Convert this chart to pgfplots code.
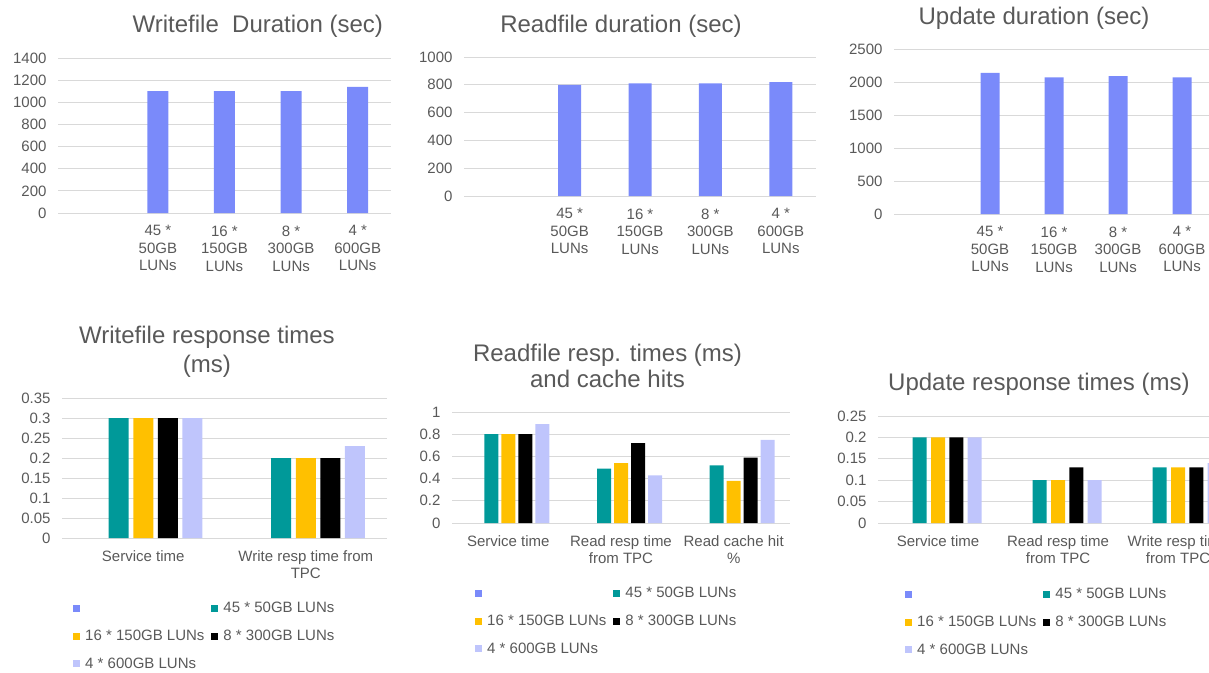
\documentclass[border=0pt]{standalone}
\usepackage{pgfplots}
\pgfplotsset{compat=1.18}
\usepackage{fontspec}
\setmainfont{Liberation Sans}
\definecolor{txt}{HTML}{595959}
\definecolor{gridc}{HTML}{D9D9D9}
\definecolor{cblue}{HTML}{7A8AFA}
\definecolor{cteal}{HTML}{009999}
\definecolor{cyel}{HTML}{FFC000}
\definecolor{cblk}{HTML}{000000}
\definecolor{clav}{HTML}{BFC5FC}
\pgfplotsset{
  sq/.style={legend image code/.code={\fill[##1] (0pt,-3.5pt) rectangle (7pt,3.5pt);}},
  base/.style={
    scale only axis, anchor=south west,
    axis line style={draw=none}, tick style={draw=none},
    major tick length=0pt,
    ymajorgrids, grid style={gridc, line width=0.9pt},
    ymin=0, enlargelimits=false, ybar, scaled ticks=false,
    tick label style={font=\fontsize{15}{17.5}\selectfont, text=txt},
    xticklabel style={align=center, anchor=north, yshift=-9pt},
    yticklabel style={anchor=east, xshift=-8pt},
    title style={font=\fontsize{24}{29}\selectfont, text=txt, align=center, anchor=center},
    legend columns=2, legend cell align=left,
    legend style={draw=none, fill=none, anchor=north west, inner sep=0pt,
      font=\fontsize{15}{17.5}\selectfont, text=txt, row sep=11.5pt,
      /tikz/every odd column/.append style={column sep=3pt},
      /tikz/every even column/.append style={column sep=5pt}},
    clip=false,
  },
  dur/.style={base, xmin=-0.5, xmax=4.5, xtick={0,...,4},
    xticklabels={{},{45 *\\50GB\\LUNs},{16 *\\150GB\\LUNs},{8 *\\300GB\\LUNs},{4 *\\600GB\\LUNs}}},
}
\begin{document}
\begin{tikzpicture}
\useasboundingbox (0pt,0pt) rectangle (1209pt,-672pt);
\clip (0pt,0pt) rectangle (1209pt,-672pt);

% Panel 1
\begin{axis}[dur, at={(58pt,-213pt)}, width=333pt, height=155pt,
  ymax=1400, ytick={0,200,...,1400}, yticklabels={0,200,400,600,800,1000,1200,1400},
  bar width=21pt, title={Writefile\ \ Duration (sec)}, title style={at={(0.60,1.167)}}]
\addplot[fill=cblue, draw=none, bar shift=0pt] coordinates {(1,1100) (2,1100) (3,1100) (4,1140)};
\end{axis}

% Panel 2
\begin{axis}[dur, at={(464pt,-196pt)}, width=352pt, height=139pt,
  ymax=1000, ytick={0,200,...,1000}, yticklabels={0,200,400,600,800,1000},
  bar width=23pt, title={Readfile duration (sec)}, title style={at={(0.446,1.179)}}]
\addplot[fill=cblue, draw=none, bar shift=0pt] coordinates {(1,800) (2,810) (3,810) (4,820)};
\end{axis}

% Panel 3
\begin{axis}[dur, at={(894pt,-214pt)}, width=320pt, height=165pt,
  ymax=2500, ytick={0,500,...,2500}, yticklabels={0,500,1000,1500,2000,2500},
  bar width=19pt, title={Update duration (sec)}, title style={at={(0.4375,1.152)}}]
\addplot[fill=cblue, draw=none, bar shift=0pt] coordinates {(1,2140) (2,2070) (3,2090) (4,2070)};
\end{axis}

% Panel 4
\begin{axis}[base, at={(62pt,-538pt)}, width=325pt, height=140pt,
  xmin=-0.5, xmax=1.5, xtick={0,1}, xticklabels={{Service time},{Write resp time from\\TPC}},
  ymax=0.35, ytick={0,0.05,...,0.35}, yticklabels={0,0.05,0.1,0.15,0.2,0.25,0.3,0.35},
  bar width=20pt, title={Writefile response times\\(ms)}, title style={at={(0.446,1.286)}},
  legend style={at={(0.034,-0.436)}}]
\addlegendimage{sq, fill=cblue, draw=none}
\addlegendentry{\strut}
\addplot[sq, fill=cteal, draw=none, bar shift=-24.6pt] coordinates {(0,0.3) (1,0.2)};
\addlegendentry{45 * 50GB LUNs}
\addplot[sq, fill=cyel, draw=none, bar shift=0pt] coordinates {(0,0.3) (1,0.2)};
\addlegendentry{16 * 150GB LUNs}
\addplot[sq, fill=cblk, draw=none, bar shift=24.6pt] coordinates {(0,0.3) (1,0.2)};
\addlegendentry{8 * 300GB LUNs}
\addplot[sq, fill=clav, draw=none, bar shift=49.2pt] coordinates {(0,0.3) (1,0.23)};
\addlegendentry{4 * 600GB LUNs}
\end{axis}

% Panel 5
\begin{axis}[base, at={(452pt,-523pt)}, width=338pt, height=111pt,
  xmin=-0.5, xmax=2.5, xtick={0,1,2}, xticklabels={{Service time},{Read resp time\\from TPC},{Read cache hit\\\%}},
  ymax=1, ytick={0,0.2,...,1}, yticklabels={0,0.2,0.4,0.6,0.8,1},
  bar width=14pt, title={Readfile resp. times (ms)\\and cache hits},
  title style={at={(0.46,1.36)}, font=\fontsize{24}{26.5}\selectfont},
  legend style={at={(0.068,-0.55)}}]
\addlegendimage{sq, fill=cblue, draw=none}
\addlegendentry{\strut}
\addplot[sq, fill=cteal, draw=none, bar shift=-17pt] coordinates {(0,0.8) (1,0.49) (2,0.52)};
\addlegendentry{45 * 50GB LUNs}
\addplot[sq, fill=cyel, draw=none, bar shift=0pt] coordinates {(0,0.8) (1,0.54) (2,0.38)};
\addlegendentry{16 * 150GB LUNs}
\addplot[sq, fill=cblk, draw=none, bar shift=17pt] coordinates {(0,0.8) (1,0.72) (2,0.59)};
\addlegendentry{8 * 300GB LUNs}
\addplot[sq, fill=clav, draw=none, bar shift=34pt] coordinates {(0,0.89) (1,0.43) (2,0.75)};
\addlegendentry{4 * 600GB LUNs}
\end{axis}

% Panel 6
\begin{axis}[base, at={(878pt,-523pt)}, width=360pt, height=107pt,
  xmin=-0.5, xmax=2.5, xtick={0,1,2}, xticklabels={{Service time},{Read resp time\\from TPC},{Write resp time\\from TPC}},
  ymax=0.25, ytick={0,0.05,...,0.25}, yticklabels={0,0.05,0.1,0.15,0.2,0.25},
  bar width=14pt, title={Update response times (ms)}, title style={at={(0.447,1.243)}},
  legend style={at={(0.075,-0.579)}}]
\addlegendimage{sq, fill=cblue, draw=none}
\addlegendentry{\strut}
\addplot[sq, fill=cteal, draw=none, bar shift=-18.3pt] coordinates {(0,0.2) (1,0.1) (2,0.13)};
\addlegendentry{45 * 50GB LUNs}
\addplot[sq, fill=cyel, draw=none, bar shift=0pt] coordinates {(0,0.2) (1,0.1) (2,0.13)};
\addlegendentry{16 * 150GB LUNs}
\addplot[sq, fill=cblk, draw=none, bar shift=18.3pt] coordinates {(0,0.2) (1,0.13) (2,0.13)};
\addlegendentry{8 * 300GB LUNs}
\addplot[sq, fill=clav, draw=none, bar shift=36.6pt] coordinates {(0,0.2) (1,0.1) (2,0.14)};
\addlegendentry{4 * 600GB LUNs}
\end{axis}
\end{tikzpicture}
\end{document}
